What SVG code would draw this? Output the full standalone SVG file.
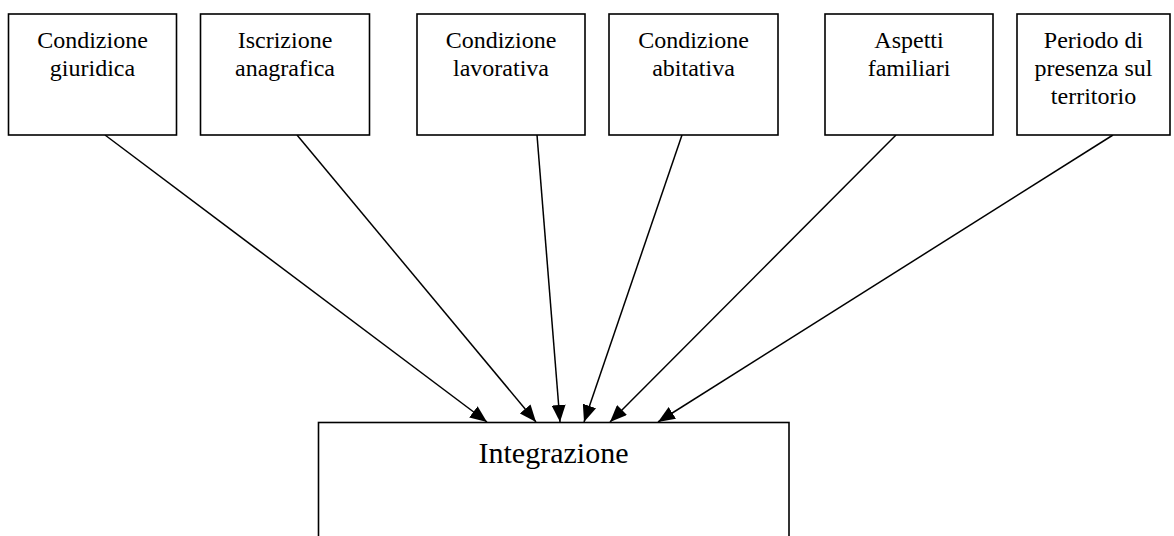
<svg xmlns="http://www.w3.org/2000/svg" width="1174" height="536" viewBox="0 0 1174 536">
<defs>
<style>
.box{fill:#fff;stroke:#000;stroke-width:1.6}
.t{font-family:"Liberation Serif","Times New Roman",serif;font-size:24px;fill:#000;text-anchor:middle}
.big{font-size:30px}
.c{stroke:#000;stroke-width:1.5;fill:none;marker-end:url(#ah)}
</style>
<marker id="ah" markerUnits="userSpaceOnUse" markerWidth="17" markerHeight="14" viewBox="0 0 17 14" refX="17" refY="7" orient="auto">
<path d="M0,0 L17,7 L0,14 Z" fill="#000"/>
</marker>
</defs>
<rect width="1174" height="536" fill="#fff"/>
<g id="connectors">
<line class="c" x1="105" y1="135" x2="487" y2="422"/>
<line class="c" x1="297" y1="135" x2="536" y2="422"/>
<line class="c" x1="537" y1="135" x2="560" y2="422"/>
<line class="c" x1="682" y1="135" x2="584" y2="422"/>
<line class="c" x1="896" y1="135" x2="610" y2="422"/>
<line class="c" x1="1113" y1="135" x2="658" y2="422"/>
</g>
<g id="n1"><rect class="box" x="8.5" y="14" width="168" height="121"/>
<text class="t" x="92.5" y="48">Condizione</text><text class="t" x="92.5" y="76">giuridica</text></g>
<g id="n2"><rect class="box" x="200.5" y="14" width="169" height="121"/>
<text class="t" x="285" y="48">Iscrizione</text><text class="t" x="285" y="76">anagrafica</text></g>
<g id="n3"><rect class="box" x="417" y="14" width="168" height="121"/>
<text class="t" x="501" y="48">Condizione</text><text class="t" x="501" y="76">lavorativa</text></g>
<g id="n4"><rect class="box" x="609" y="14" width="169" height="121"/>
<text class="t" x="693.5" y="48">Condizione</text><text class="t" x="693.5" y="76">abitativa</text></g>
<g id="n5"><rect class="box" x="825" y="14" width="168" height="121"/>
<text class="t" x="909" y="48">Aspetti</text><text class="t" x="909" y="76">familiari</text></g>
<g id="n6"><rect class="box" x="1017" y="14" width="153" height="121"/>
<text class="t" x="1093.5" y="48">Periodo di</text><text class="t" x="1093.5" y="76">presenza sul</text><text class="t" x="1093.5" y="104">territorio</text></g>
<g id="n7"><rect class="box" x="318.5" y="422.5" width="470.5" height="130"/>
<text class="t big" x="553.5" y="463">Integrazione</text></g>
</svg>
